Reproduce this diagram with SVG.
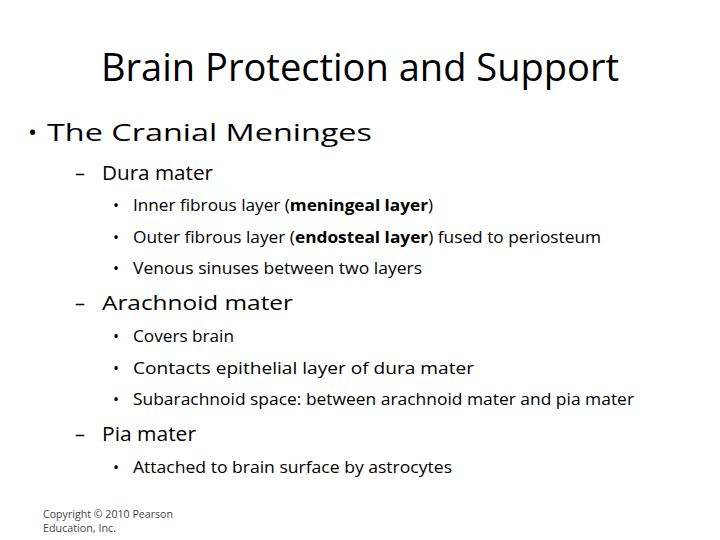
<svg xmlns="http://www.w3.org/2000/svg" width="720" height="540" viewBox="0 0 720 540">
<style>
text{font-family:"Open Sans","Liberation Sans",sans-serif;fill:#000}
.t{font-size:38px}
.l1{font-size:24px}
.l2{font-size:20px}
.l3{font-size:16px}
.c{font-size:10.5px;fill:#444}
.b{font-weight:bold}
</style>
<rect width="720" height="540" fill="#fff"/>
<g id="title"><text class="t" x="101" y="81" textLength="518" lengthAdjust="spacingAndGlyphs">Brain Protection and Support</text></g>
<g id="body">
<text class="l1" x="28" y="141">•</text>
<text class="l1" x="47" y="141" textLength="325" lengthAdjust="spacingAndGlyphs">The Cranial Meninges</text>
<text class="l2" x="75" y="180">–</text>
<text class="l2" x="102" y="180" textLength="111" lengthAdjust="spacingAndGlyphs">Dura mater</text>
<text class="l3" x="113" y="211">•</text>
<text class="l3" x="133" y="211" textLength="300" lengthAdjust="spacingAndGlyphs">Inner fibrous layer (<tspan class="b">meningeal layer</tspan>)</text>
<text class="l3" x="113" y="243">•</text>
<text class="l3" x="133" y="243" textLength="468" lengthAdjust="spacingAndGlyphs">Outer fibrous layer (<tspan class="b">endosteal layer</tspan>) fused to periosteum</text>
<text class="l3" x="113" y="274">•</text>
<text class="l3" x="133" y="274" textLength="289" lengthAdjust="spacingAndGlyphs">Venous sinuses between two layers</text>
<text class="l2" x="75" y="310">–</text>
<text class="l2" x="102" y="310" textLength="191" lengthAdjust="spacingAndGlyphs">Arachnoid mater</text>
<text class="l3" x="113" y="342">•</text>
<text class="l3" x="133" y="342" textLength="101" lengthAdjust="spacingAndGlyphs">Covers brain</text>
<text class="l3" x="113" y="374">•</text>
<text class="l3" x="133" y="374" textLength="341" lengthAdjust="spacingAndGlyphs">Contacts epithelial layer of dura mater</text>
<text class="l3" x="113" y="405">•</text>
<text class="l3" x="133" y="405" textLength="501" lengthAdjust="spacingAndGlyphs">Subarachnoid space: between arachnoid mater and pia mater</text>
<text class="l2" x="75" y="441">–</text>
<text class="l2" x="102" y="441" textLength="94" lengthAdjust="spacingAndGlyphs">Pia mater</text>
<text class="l3" x="113" y="473">•</text>
<text class="l3" x="133" y="473" textLength="319" lengthAdjust="spacingAndGlyphs">Attached to brain surface by astrocytes</text>
</g>
<g id="copyright">
<text class="c" x="43" y="518" textLength="130" lengthAdjust="spacingAndGlyphs">Copyright © 2010 Pearson</text>
<text class="c" x="43" y="532" textLength="73" lengthAdjust="spacingAndGlyphs">Education, Inc.</text>
</g>
</svg>
